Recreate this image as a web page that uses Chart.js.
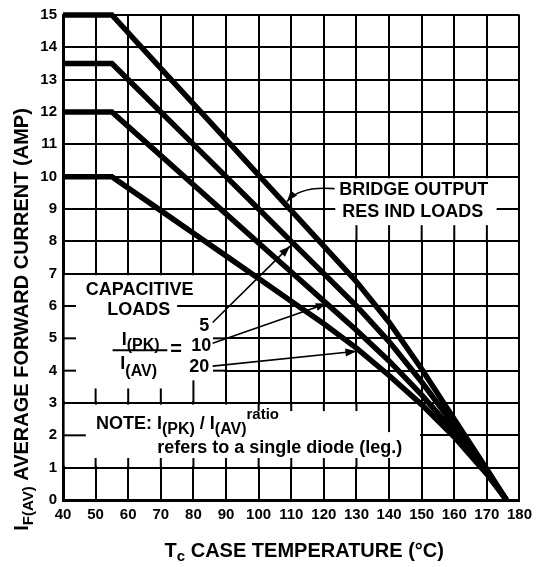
<!DOCTYPE html>
<html lang="en">
<head>
<meta charset="UTF-8">
<title>Forward Current Derating</title>
<script src="https://cdn.jsdelivr.net/npm/chart.js"></script>
<style>
  html, body { margin: 0; padding: 0; background: #fff; }
  #wrap { width: 538px; height: 567px; }
</style>
</head>
<body>
<div id="wrap"><canvas id="derating" width="538" height="567"></canvas></div>
<script>
// tick labels
const tempTicks = [40, 50, 60, 70, 80, 90, 100, 110, 120, 130, 140, 150, 160, 170, 180];
const ampTicks = [0, 1, 2, 3, 4, 5, 6, 7, 8, 9, 10, 11, 12, 13, 14, 15];

// curves (case temp in degC, current in A)
const caseTemp     = [40, 55, 70, 80, 90, 100, 110, 120, 130, 140, 150, 160, 170, 176];
const bridgeResInd = [15, 15, 13.35, 12.25, 11.15, 10.05, 8.95, 7.85, 6.75, 5.5, 4.05, 2.5, 0.95, 0];
const capRatio5    = [13.5, 13.5, 12, 11, 10, 9, 8, 7, 6, 4.9, 3.65, 2.3, 0.9, 0];
const capRatio10   = [12, 12, 10.65, 9.75, 8.85, 7.95, 7.05, 6.15, 5.25, 4.3, 3.25, 2.1, 0.85, 0];
const capRatio20   = [10, 10, 8.95, 8.25, 7.55, 6.85, 6.15, 5.45, 4.7, 3.85, 2.95, 1.95, 0.8, 0];

const FONT = '"Liberation Sans", Arial, Helvetica, sans-serif';

// white label panels that hide the grid (data units)
const maskBoxes = [
    { x0: 40, x1: 90, y0: 3, y1: 7 },
    { x0: 40, x1: 150, y0: 1, y1: 3 },
    { x0: 120, x1: 180, y0: 8, y1: 10 }
];

// bits of grid that still show inside the panels
const gridBits = [
    [40, 6, 44, 6], [40, 5, 44, 5], [40, 4, 44, 4],
    [50, 3, 50, 3.45], [60, 3, 60, 3.45], [70, 3, 70, 3.45], [80, 3, 80, 3.7],
    [75, 6, 90, 6], [86, 5, 90, 5], [86, 4, 90, 4],
    [40, 2, 47, 2],
    [100, 3, 100, 2.75], [110, 3, 110, 2.75], [120, 3, 120, 2.75], [130, 3, 130, 2.75], [140, 3, 140, 2.1],
    [50, 1, 50, 1.3], [60, 1, 60, 1.3], [70, 1, 70, 1.3], [80, 1, 80, 1.3], [90, 1, 90, 1.3],
    [100, 1, 100, 1.3], [110, 1, 110, 1.3], [120, 1, 120, 1.3], [130, 1, 130, 1.3], [140, 1, 140, 1.3],
    [130, 8, 130, 8.5], [140, 8, 140, 8.5], [150, 8, 150, 8.5], [160, 8, 160, 8.5], [170, 8, 170, 8.5],
    [120, 9, 123.5, 9], [173, 9, 180, 9]
];

// straight leaders with arrow heads: from label to curve
const leaders = [
    [85.9, 5.49, 109.6, 7.85],
    [85.9, 4.85, 120.9, 6.08],
    [85.9, 4.14, 130, 4.6]
];

// [text, size, dy] pieces
const labels = [
    { x: 147.6, y: 9.6, align: 'center', parts: [['BRIDGE OUTPUT', 18]] },
    { x: 147.3, y: 8.92, align: 'center', parts: [['RES IND LOADS', 18]] },
    { x: 63.5, y: 6.48, align: 'center', parts: [['CAPACITIVE', 18]] },
    { x: 63.2, y: 5.86, align: 'center', parts: [['LOADS', 18]] },
    { x: 63.8, y: 4.95, align: 'center', parts: [['I', 18], ['(PK)', 16, 6]] },
    { x: 63.2, y: 4.2, align: 'center', parts: [['I', 18], ['(AV)', 16, 7]] },
    { x: 74.7, y: 4.66, align: 'center', parts: [['=', 20]] },
    { x: 83.3, y: 5.37, align: 'center', parts: [['5', 18]] },
    { x: 82.4, y: 4.75, align: 'center', parts: [['10', 18]] },
    { x: 81.8, y: 4.1, align: 'center', parts: [['20', 18]] },
    { x: 50.1, y: 2.35, align: 'left', parts: [['NOTE: I', 18], ['(PK)', 16, 6], [' / I', 18], ['(AV)', 16, 6], ['ratio', 15, -9]] },
    { x: 68.9, y: 1.6, align: 'left', parts: [['refers to a single diode (leg.)', 18]] }
];

function pts(ys) {
    return caseTemp.map((t, i) => ({ x: t, y: ys[i] }));
}

function rich(ctx, parts, x, y, align) {
    let w = 0;
    const ws = parts.map(p => {
        ctx.font = 'bold ' + p[1] + 'px ' + FONT;
        const m = ctx.measureText(p[0]).width;
        w += m;
        return m;
    });
    let cx = align === 'center' ? x - w / 2 : (align === 'right' ? x - w : x);
    ctx.textAlign = 'left';
    ctx.textBaseline = 'middle';
    parts.forEach((p, i) => {
        ctx.font = 'bold ' + p[1] + 'px ' + FONT;
        ctx.fillText(p[0], cx, y + (p[2] || 0));
        cx += ws[i];
    });
}

function arrowHead(ctx, x1, y1, x2, y2) {
    const a = Math.atan2(y2 - y1, x2 - x1);
    const len = 11, half = 4;
    ctx.beginPath();
    ctx.moveTo(x2, y2);
    ctx.lineTo(x2 - len * Math.cos(a) + half * Math.sin(a), y2 - len * Math.sin(a) - half * Math.cos(a));
    ctx.lineTo(x2 - len * Math.cos(a) - half * Math.sin(a), y2 - len * Math.sin(a) + half * Math.cos(a));
    ctx.closePath();
    ctx.fill();
}

const overlay = {
    id: 'overlay',
    beforeDatasetsDraw(chart) {
        const ctx = chart.ctx;
        const px = v => chart.scales.x.getPixelForValue(v);
        const py = v => chart.scales.y.getPixelForValue(v);
        ctx.save();
        ctx.fillStyle = '#fff';
        maskBoxes.forEach(b => {
            const l = px(b.x0) + 1.6, r = px(b.x1) - 1.6;
            const t = py(b.y1) + 1.6, btm = py(b.y0) - 1.6;
            ctx.fillRect(l, t, r - l, btm - t);
        });
        ctx.strokeStyle = '#000';
        ctx.lineWidth = 2;
        gridBits.forEach(g => {
            ctx.beginPath();
            ctx.moveTo(px(g[0]), py(g[1]));
            ctx.lineTo(px(g[2]), py(g[3]));
            ctx.stroke();
        });
        ctx.restore();
    },
    afterDatasetsDraw(chart) {
        const ctx = chart.ctx;
        const px = v => chart.scales.x.getPixelForValue(v);
        const py = v => chart.scales.y.getPixelForValue(v);
        ctx.save();
        ctx.strokeStyle = '#000';
        ctx.fillStyle = '#000';
        ctx.lineWidth = 1.6;

        leaders.forEach(l => {
            ctx.beginPath();
            ctx.moveTo(px(l[0]), py(l[1]));
            ctx.lineTo(px(l[2]), py(l[3]));
            ctx.stroke();
            arrowHead(ctx, px(l[0]), py(l[1]), px(l[2]), py(l[3]));
        });

        // curved leader from BRIDGE OUTPUT to the top curve
        ctx.beginPath();
        ctx.moveTo(px(123.3), py(9.63));
        ctx.quadraticCurveTo(px(112.6), py(9.72), px(108.7), py(9.23));
        ctx.stroke();
        arrowHead(ctx, px(112.6), py(9.72), px(108.7), py(9.23));

        // fraction bar
        ctx.lineWidth = 2;
        ctx.beginPath();
        ctx.moveTo(px(55.2), py(4.63));
        ctx.lineTo(px(72), py(4.63));
        ctx.stroke();

        labels.forEach(lb => rich(ctx, lb.parts, px(lb.x), py(lb.y), lb.align));
        ctx.restore();
    },
    afterDraw(chart) {
        const ctx = chart.ctx;
        const a = chart.chartArea;
        ctx.save();
        ctx.fillStyle = '#000';
        rich(ctx, [['T', 20], ['c', 15, 6], [' CASE TEMPERATURE (°C)', 20]],
            (a.left + a.right) / 2 + 13, a.bottom + 51, 'center');
        ctx.translate(a.left - 41, (a.top + a.bottom) / 2 + 62);
        ctx.rotate(-Math.PI / 2);
        rich(ctx, [['I', 20], ['F(AV)', 15, 7], [' AVERAGE FORWARD CURRENT (AMP)', 20]], 0, 0, 'center');
        ctx.restore();
    }
};

function curve(data) {
    return {
        data: pts(data),
        borderColor: '#000',
        borderWidth: 5.5,
        borderJoinStyle: 'miter',
        pointRadius: 0,
        tension: 0,
        fill: false,
        clip: 8
    };
}

new Chart(document.getElementById('derating').getContext('2d'), {
    type: 'line',
    data: {
        datasets: [curve(bridgeResInd), curve(capRatio5), curve(capRatio10), curve(capRatio20)]
    },
    options: {
        responsive: false,
        animation: false,
        devicePixelRatio: 1,
        layout: { padding: { top: 13, right: 17, left: 0, bottom: 0 } },
        plugins: { legend: { display: false }, tooltip: { enabled: false } },
        scales: {
            x: {
                type: 'linear',
                min: tempTicks[0],
                max: tempTicks[tempTicks.length - 1],
                afterBuildTicks: s => { s.ticks = tempTicks.map(v => ({ value: v })); },
                ticks: { color: '#000', font: { family: FONT, size: 15, weight: 'bold' }, padding: 6, autoSkip: false, maxRotation: 0, minRotation: 0 },
                grid: { color: '#000', lineWidth: 2, drawTicks: false },
                border: { color: '#000', width: 3 },
                afterFit: s => { s.height = 67; }
            },
            y: {
                type: 'linear',
                min: ampTicks[0],
                max: ampTicks[ampTicks.length - 1],
                afterBuildTicks: s => { s.ticks = ampTicks.map(v => ({ value: v })); },
                ticks: { color: '#000', font: { family: FONT, size: 15, weight: 'bold' }, padding: 6, autoSkip: false },
                grid: { color: '#000', lineWidth: 2, drawTicks: false },
                border: { color: '#000', width: 3 },
                afterFit: s => { s.width = 63; }
            }
        }
    },
    plugins: [overlay]
});
</script>
</body>
</html>
